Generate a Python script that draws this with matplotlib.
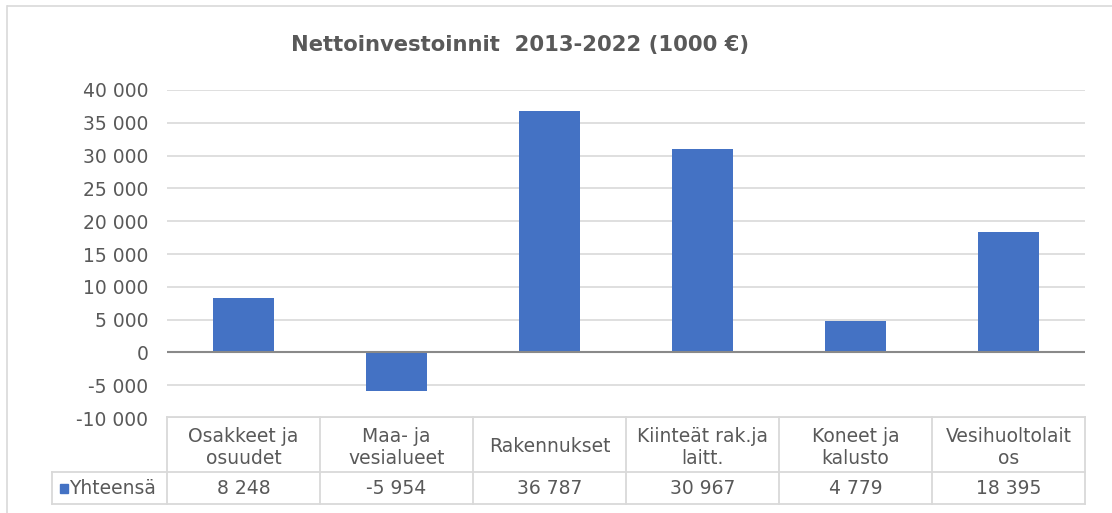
import matplotlib.pyplot as plt
import matplotlib.transforms as mtransforms
from matplotlib.lines import Line2D
from matplotlib.patches import Rectangle
from matplotlib.ticker import FuncFormatter

# data
labels = ["Osakkeet ja\nosuudet", "Maa- ja\nvesialueet", "Rakennukset",
          "Kiinteät rak.ja\nlaitt.", "Koneet ja\nkalusto", "Vesihuoltolait\nos"]
values = [8248, -5954, 36787, 30967, 4779, 18395]
series_name = "Yhteensä"
yticks = [-10000, -5000, 0, 5000, 10000, 15000, 20000, 25000, 30000, 35000, 40000]
title = "Nettoinvestoinnit  2013-2022 (1000 €)"

W, H = 1112, 513
bar_color = "#4472C4"
text_color = "#595959"
grid_color = "#d9d9d9"
fs = 13.5


def fmt(v, pos=None):
    return f"{int(v):,}".replace(",", " ")


def fy(y):
    # pixel row -> figure fraction
    return 1 - y / H


fig = plt.figure(figsize=(W / 100, H / 100), dpi=100)
ax = fig.add_axes([167 / W, fy(418), (1085 - 167) / W, (418 - 90) / H])

x = list(range(len(values)))
ax.bar(x, values, width=0.4, color=bar_color, zorder=3)
ax.set_xlim(-0.5, len(values) - 0.5)
ax.set_ylim(-10000, 40000)
ax.set_yticks(yticks)
ax.yaxis.set_major_formatter(FuncFormatter(fmt))
ax.tick_params(axis="y", length=0, pad=13.5, labelsize=fs, labelcolor=text_color)
ax.set_xticks([])
for s in ax.spines.values():
    s.set_visible(False)
ax.grid(axis="y", color=grid_color, linewidth=1.2, zorder=0)
ax.axhline(0, color="#898989", linewidth=1.5, zorder=4)

# title
fig.text(520 / W, fy(45), title, ha="center", va="center", fontsize=15.2,
         fontweight="bold", color=text_color)

# chart border (left and top only visible)
fig.add_artist(Line2D([7 / W, 7 / W], [fy(6), 0], transform=fig.transFigure,
                      color=grid_color, linewidth=1.2))
fig.add_artist(Line2D([7 / W, 1], [fy(6), fy(6)], transform=fig.transFigure,
                      color=grid_color, linewidth=1.2, solid_capstyle="butt"))

# data table under the plot
tr = mtransforms.blended_transform_factory(ax.transData, fig.transFigure)
tline = dict(color=grid_color, linewidth=1.3, clip_on=False)
top, mid, bot = fy(417), fy(472), fy(504)
n = len(values)
for yy in (top, mid, bot):
    fig.add_artist(Line2D([-0.5, n - 0.5], [yy, yy], transform=tr, **tline))
for i in range(n + 1):
    fig.add_artist(Line2D([i - 0.5, i - 0.5], [top, bot], transform=tr, **tline))
# row header cell
fig.add_artist(Line2D([52 / W, 167 / W], [mid, mid], transform=fig.transFigure, **tline))
fig.add_artist(Line2D([52 / W, 167 / W], [bot, bot], transform=fig.transFigure, **tline))
fig.add_artist(Line2D([52 / W, 52 / W], [mid, bot], transform=fig.transFigure, **tline))

for i, (lab, v) in enumerate(zip(labels, values)):
    fig.text(i, fy(447), lab, transform=tr, ha="center", va="center",
             fontsize=fs, color=text_color, linespacing=1.2)
    fig.text(i, fy(489), fmt(v), transform=tr, ha="center", va="center",
             fontsize=fs, color=text_color)

fig.add_artist(Rectangle((60 / W, fy(493)), 8 / W, 9 / H, transform=fig.transFigure,
                         color=bar_color))
fig.text(69 / W, fy(489), series_name, ha="left", va="center", fontsize=fs,
         color=text_color)

fig.savefig("out.png", dpi=100)
